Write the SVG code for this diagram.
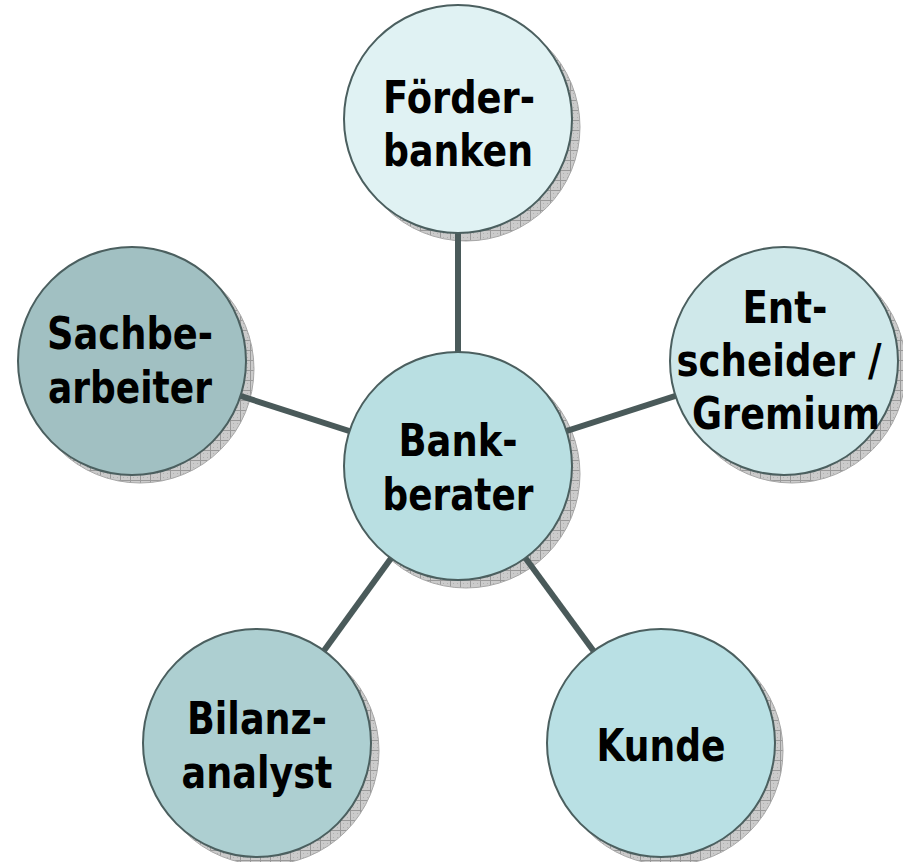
<svg xmlns="http://www.w3.org/2000/svg" width="903" height="862" viewBox="0 0 903 862">
<defs>
<pattern id="hatch" width="10" height="10" patternUnits="userSpaceOnUse">
<rect width="10" height="10" fill="#cbcbcb"/>
<path d="M0 0.5H10M0.5 0V10" stroke="#999999" stroke-width="1"/>
<path d="M3 3h1v1h-1zM7 7h1v1h-1zM3 7h1v1h-1zM7 3h1v1h-1z" fill="#b0b0b0"/>
</pattern>
<style>
.shadow{fill:url(#hatch);stroke:#a8a8a8;stroke-width:1}
.node{stroke:#4b5f5f;stroke-width:2}
.lbl{font-family:"DejaVu Sans","Verdana",sans-serif;font-weight:bold;font-size:44px;fill:#000;text-anchor:middle}
.conn{stroke:#4a5a5a;stroke-width:6;fill:none}
</style>
</defs>
<rect width="903" height="862" fill="#ffffff"/>
<g id="shadows">
<circle class="shadow" cx="466" cy="127" r="114"/>
<circle class="shadow" cx="466" cy="474" r="114"/>
<circle class="shadow" cx="792" cy="369" r="114"/>
<circle class="shadow" cx="140" cy="369" r="114"/>
<circle class="shadow" cx="265" cy="751" r="114"/>
<circle class="shadow" cx="669" cy="751" r="114"/>
</g>
<g id="connectors">
<line class="conn" x1="458" y1="119" x2="458" y2="466"/>
<line class="conn" x1="784" y1="361" x2="458" y2="466"/>
<line class="conn" x1="132" y1="361" x2="458" y2="466"/>
<line class="conn" x1="257" y1="743" x2="458" y2="466"/>
<line class="conn" x1="661" y1="743" x2="458" y2="466"/>
</g>
<g id="foerderbanken">
<circle class="node" cx="458" cy="119" r="114" fill="#e0f2f3"/>
<text class="lbl" x="459" y="113" textLength="152" lengthAdjust="spacingAndGlyphs">Förder-</text>
<text class="lbl" x="458" y="166" textLength="150" lengthAdjust="spacingAndGlyphs">banken</text>
</g>
<g id="bankberater">
<circle class="node" cx="458" cy="466" r="114" fill="#b9dfe2"/>
<text class="lbl" x="458" y="456" textLength="119" lengthAdjust="spacingAndGlyphs">Bank-</text>
<text class="lbl" x="458" y="510" textLength="151" lengthAdjust="spacingAndGlyphs">berater</text>
</g>
<g id="entscheider">
<circle class="node" cx="784" cy="361" r="114" fill="#cfe8ea"/>
<text class="lbl" x="785" y="323" textLength="85" lengthAdjust="spacingAndGlyphs">Ent-</text>
<text class="lbl" x="779" y="376" textLength="205" lengthAdjust="spacingAndGlyphs">scheider /</text>
<text class="lbl" x="786" y="429" textLength="188" lengthAdjust="spacingAndGlyphs">Gremium</text>
</g>
<g id="sachbearbeiter">
<circle class="node" cx="132" cy="361" r="114" fill="#a1c0c2"/>
<text class="lbl" x="130" y="349" textLength="166" lengthAdjust="spacingAndGlyphs">Sachbe-</text>
<text class="lbl" x="130" y="403" textLength="164" lengthAdjust="spacingAndGlyphs">arbeiter</text>
</g>
<g id="bilanzanalyst">
<circle class="node" cx="257" cy="743" r="114" fill="#adcfd1"/>
<text class="lbl" x="257" y="734" textLength="140" lengthAdjust="spacingAndGlyphs">Bilanz-</text>
<text class="lbl" x="257" y="788" textLength="151" lengthAdjust="spacingAndGlyphs">analyst</text>
</g>
<g id="kunde">
<circle class="node" cx="661" cy="743" r="114" fill="#b9e0e4"/>
<text class="lbl" x="661" y="761" textLength="129" lengthAdjust="spacingAndGlyphs">Kunde</text>
</g>
</svg>
